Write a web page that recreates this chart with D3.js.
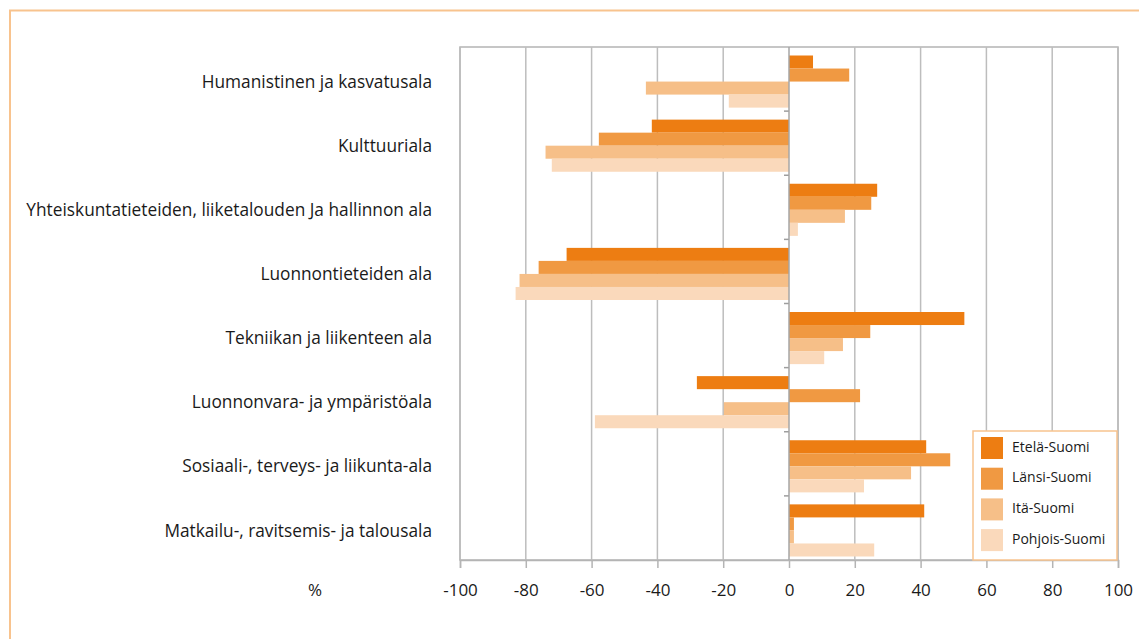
<!DOCTYPE html>
<html>
<head>
<meta charset="utf-8">
<script src="https://cdn.jsdelivr.net/npm/d3@7"></script>
<style>
  body { margin: 0; background: #fff; }
  svg { display: block; font-family: "Open Sans", "Lato", sans-serif; }
</style>
</head>
<body>
<svg id="chart" width="1139" height="639"></svg>
<script>
const categories = [
  "Humanistinen ja kasvatusala",
  "Kulttuuriala",
  "Yhteiskuntatieteiden, liiketalouden Ja hallinnon ala",
  "Luonnontieteiden ala",
  "Tekniikan ja liikenteen ala",
  "Luonnonvara- ja ympäristöala",
  "Sosiaali-, terveys- ja liikunta-ala",
  "Matkailu-, ravitsemis- ja talousala"
]
const seriesNames = ["Etelä-Suomi", "Länsi-Suomi", "Itä-Suomi", "Pohjois-Suomi"]
const etela   = [7.3, -41.7, 26.8, -67.6, 53.3, -28, 41.7, 41.1]
const lansi   = [18.3, -57.8, 25, -76.1, 24.7, 21.6, 49, 1.5]
const ita     = [-43.5, -74, 17, -81.9, 16.4, -19.8, 37.1, 1.5]
const pohjois = [-18.3, -72.1, 2.7, -83.1, 10.7, -59, 22.8, 25.9]
const xTicks = [-100, -80, -60, -40, -20, 0, 20, 40, 60, 80, 100]
const colors = ["#ED7D12", "#F09942", "#F6BF88", "#FAD9BB"]

const values = [etela, lansi, ita, pohjois]
const rows = categories.map((c, i) => ({ cat: c, vals: values.map(s => s[i]) }))

const svg = d3.select("#chart")
const margin = { left: 460, right: 21, top: 47, bottom: 79 }
const width = 1139 - margin.left - margin.right
const height = 639 - margin.top - margin.bottom

// outer frame (top and left only)
svg.append("path")
  .attr("d", "M10,639 V10.5 H1139")
  .attr("fill", "none")
  .attr("stroke", "#F8C38E")
  .attr("stroke-width", 2)

const g = svg.append("g")
  .attr("transform", "translate(" + margin.left + "," + margin.top + ")")

const x = d3.scaleLinear().domain([-100, 100]).range([0, width])
const y = d3.scaleBand().domain(categories).range([0, height])
const inner = d3.scaleBand().domain(seriesNames)
  .range([8.5, y.bandwidth() - 3.5])

// plot frame + grid
g.append("rect")
  .attr("width", width).attr("height", height)
  .attr("fill", "none").attr("stroke", "#B4B4B4").attr("stroke-width", 1.5)
g.selectAll(".grid")
  .data(xTicks.filter(d => d != 0))
  .enter().append("line")
  .attr("class", "grid")
  .attr("x1", d => x(d)).attr("x2", d => x(d))
  .attr("y1", 0).attr("y2", height)
  .attr("stroke", "#BDBDBD").attr("stroke-width", 1.5)

// bars
const grp = g.selectAll(".cat")
  .data(rows)
  .enter().append("g")
  .attr("class", "cat")
  .attr("transform", d => "translate(0," + y(d.cat) + ")")
grp.selectAll("rect")
  .data(d => d.vals.map((v, j) => ({ v: v, s: seriesNames[j], j: j })))
  .enter().append("rect")
  .attr("x", d => x(Math.min(0, d.v)))
  .attr("width", d => Math.abs(x(d.v) - x(0)))
  .attr("y", d => inner(d.s))
  .attr("height", inner.bandwidth())
  .attr("fill", d => colors[d.j])

// zero (category) axis
const yAxis = g.append("g")
  .attr("transform", "translate(" + x(0) + ",0)")
  .call(d3.axisLeft(y).tickSize(5).tickFormat("")
    .tickValues(categories.slice(1)))
yAxis.select(".domain").remove()
yAxis.selectAll(".tick").attr("transform", d => "translate(0," + y(d) + ")")
yAxis.selectAll("line").attr("stroke", "#9E9E9E").attr("stroke-width", 1.5)
g.append("line")
  .attr("x1", x(0)).attr("x2", x(0)).attr("y1", 0).attr("y2", height)
  .attr("stroke", "#A6A6A6").attr("stroke-width", 1.5)

// category labels
g.selectAll(".catlabel")
  .data(categories)
  .enter().append("text")
  .attr("x", -28)
  .attr("y", d => y(d) + y.bandwidth() / 2 + 4)
  .attr("text-anchor", "end")
  .attr("dominant-baseline", "middle")
  .attr("font-size", 17.3)
  .attr("fill", "#1a1a1a")
  .text(d => d)

// value axis
const xAxis = g.append("g")
  .attr("transform", "translate(0," + height + ")")
  .call(d3.axisBottom(x).tickValues(xTicks).tickSize(8).tickPadding(16)
    .tickFormat(d => String(d)))
xAxis.select(".domain").attr("stroke", "#B4B4B4").attr("stroke-width", 1.5)
xAxis.selectAll("line").attr("stroke", "#B4B4B4").attr("stroke-width", 1.5)
xAxis.selectAll("text")
  .attr("font-size", 17).attr("fill", "#1a1a1a")
  .attr("font-family", "Open Sans, sans-serif")

svg.append("text")
  .attr("x", 315).attr("y", 596)
  .attr("text-anchor", "middle")
  .attr("font-size", 17).attr("fill", "#1a1a1a")
  .text("%")

// legend
const lg = svg.append("g").attr("transform", "translate(973,431)")
lg.append("rect")
  .attr("width", 144).attr("height", 129)
  .attr("fill", "#fff").attr("stroke", "#F8C38E").attr("stroke-width", 1.5)
const item = lg.selectAll(".item")
  .data(seriesNames)
  .enter().append("g")
  .attr("transform", (d, i) => "translate(8," + (6 + i * 30.7) + ")")
item.append("rect")
  .attr("width", 22).attr("height", 22)
  .attr("fill", (d, i) => colors[i])
item.append("text")
  .attr("x", 31).attr("y", 11)
  .attr("dominant-baseline", "middle")
  .attr("font-size", 14).attr("fill", "#1a1a1a")
  .text(d => d)
</script>
</body>
</html>
